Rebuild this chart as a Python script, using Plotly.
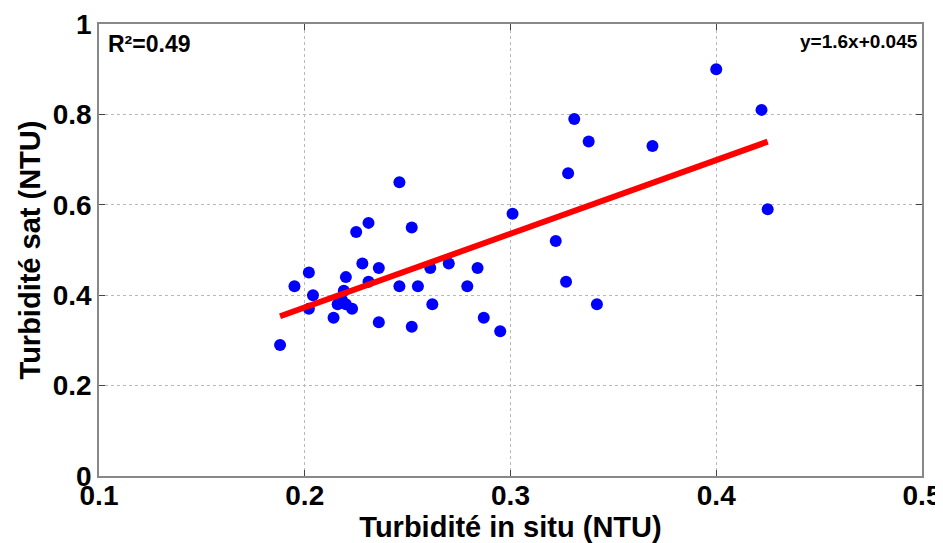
import numpy as np
import plotly.graph_objects as go

# Data
turb_in_situ = [0.188, 0.195, 0.202, 0.202, 0.204, 0.214, 0.216, 0.218, 0.220, 0.219,
                0.220, 0.223, 0.225, 0.228, 0.231, 0.231, 0.236, 0.236, 0.246, 0.246,
                0.252, 0.252, 0.255, 0.261, 0.262, 0.270, 0.279, 0.284, 0.287, 0.295,
                0.301, 0.322, 0.327, 0.328, 0.331, 0.338, 0.342, 0.369, 0.400, 0.422,
                0.425]
turb_sat = [0.29, 0.42, 0.45, 0.37, 0.40, 0.35, 0.38, 0.39, 0.38, 0.41,
            0.44, 0.37, 0.54, 0.47, 0.43, 0.56, 0.46, 0.34, 0.65, 0.42,
            0.33, 0.55, 0.42, 0.46, 0.38, 0.47, 0.42, 0.46, 0.35, 0.32,
            0.58, 0.52, 0.43, 0.67, 0.79, 0.74, 0.38, 0.73, 0.90, 0.81,
            0.59]

slope = 1.63
intercept = 0.047
fit_x = [min(turb_in_situ), max(turb_in_situ)]
fit_y = [slope * v + intercept for v in fit_x]

x_ticks = [0.1, 0.2, 0.3, 0.4, 0.5]
x_tick_labels = ["0.1", "0.2", "0.3", "0.4", "0.5"]
y_ticks = [0, 0.2, 0.4, 0.6, 0.8, 1.0]
y_tick_labels = ["0", "0.2", "0.4", "0.6", "0.8", "1"]

font_family = "Liberation Sans, Arial, sans-serif"

fig = go.Figure()
fig.add_trace(go.Scatter(
    x=turb_in_situ, y=turb_sat, mode="markers",
    marker=dict(color="#0000ff", size=12, line=dict(width=0)),
    showlegend=False,
))
fig.add_trace(go.Scatter(
    x=fit_x, y=fit_y, mode="lines",
    line=dict(color="#ff0000", width=6),
    showlegend=False,
))

axis_common = dict(
    showline=True, linecolor="#888888", linewidth=1.5, mirror="ticks",
    ticks="inside", ticklen=6, tickcolor="#444444",
    showgrid=True, gridcolor="#b8b8b8", griddash="dot", gridwidth=1,
    zeroline=False, automargin=False,
    tickfont=dict(family=font_family, size=28, color="black", weight="bold"),
)

fig.update_layout(
    width=935, height=535,
    margin=dict(l=91, r=21, t=16, b=67),
    paper_bgcolor="white", plot_bgcolor="white",
    xaxis=dict(range=[0.1, 0.5], tickvals=x_ticks, ticktext=x_tick_labels,
               ticklabelstandoff=-6,
               title=dict(text="Turbidité in situ (NTU)", standoff=0,
                          font=dict(family=font_family, size=29, color="black", weight="bold")),
               **axis_common),
    yaxis=dict(range=[0, 1], tickvals=y_ticks, ticktext=y_tick_labels,
               title=dict(text="Turbidité sat (NTU)", standoff=4,
                          font=dict(family=font_family, size=29, color="black", weight="bold")),
               **axis_common),
    annotations=[
        dict(text="R²=0.49", xref="paper", yref="paper", x=0.008, y=0.99,
             xanchor="left", yanchor="top", showarrow=False,
             font=dict(family=font_family, size=23, color="black", weight="bold")),
        dict(text="y=1.6x+0.045", xref="paper", yref="paper", x=0.997, y=0.99,
             xanchor="right", yanchor="top", showarrow=False,
             font=dict(family=font_family, size=19, color="black", weight="bold")),
    ],
)

fig.write_html("out.html")
